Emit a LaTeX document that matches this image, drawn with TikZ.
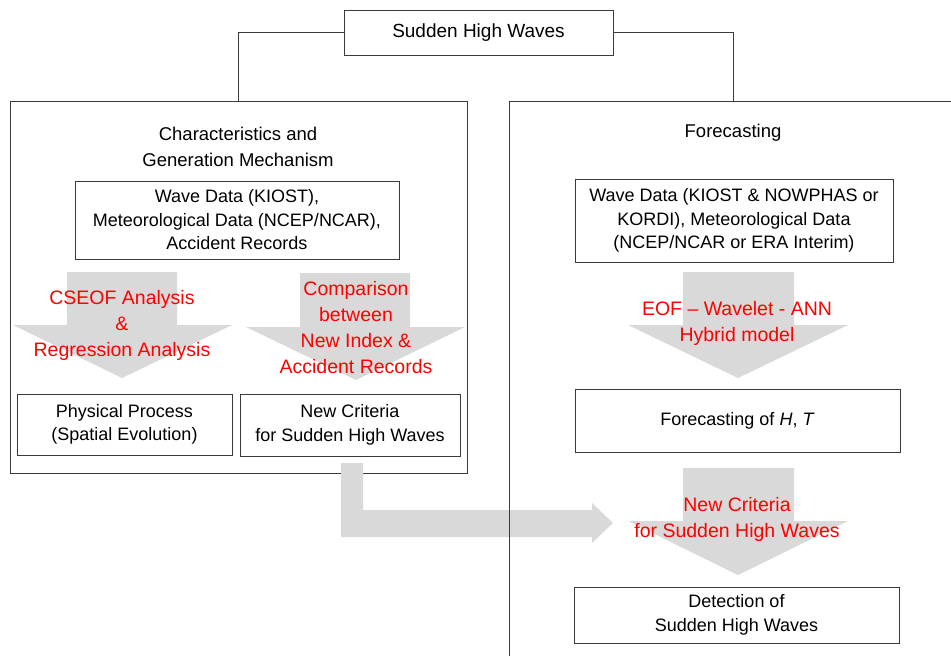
\documentclass[tikz,border=0pt]{standalone}
\usepackage{fontspec}
\setmainfont{Liberation Sans}
\definecolor{arrowgray}{HTML}{D9D9D9}
\definecolor{redtxt}{HTML}{FF0000}
\definecolor{linegray}{HTML}{3A3A3A}
\begin{document}
\begin{tikzpicture}[x=1pt,y=-1pt,
  box/.style={draw=linegray, line width=0.9pt, fill=white, inner sep=0pt, align=center, font=\fontsize{18}{23.5}\selectfont},
  bigbox/.style={draw=linegray, line width=0.9pt, inner sep=0pt},
  redlbl/.style={text=redtxt, align=center, font=\fontsize{19.5}{26}\selectfont, inner sep=0pt},
  titlelbl/.style={align=center, font=\fontsize{18.5}{26}\selectfont, inner sep=0pt},
  blockarrow/.style={fill=arrowgray, draw=none},
  link/.style={draw=linegray, line width=0.9pt}]
\useasboundingbox (0,0) rectangle (951,656);
\clip (0,0) rectangle (951,656);
\fill[white] (0,0) rectangle (951,656);

% left frame
\node[bigbox, minimum width=457pt, minimum height=372pt] (left) at (238.5,287) {};
\node[box, minimum width=269pt, minimum height=45pt, font=\fontsize{19}{24}\selectfont] (top) at (478.5,32.5) {Sudden High Waves};
\node[bigbox, minimum width=448pt, minimum height=619pt] (right) at (733,410.5) {};
\draw[link] (top.west) -| (left.north);
\draw[link] (top.east) -| (right.north);

\node[titlelbl] (ltitle) at (238,147) {Characteristics and\\Generation Mechanism};
\node[titlelbl] (rtitle) at (733,133) {Forecasting};

\node[box, minimum width=324pt, minimum height=78pt] (ldata) at (237,220) {Wave Data (KIOST),\\Meteorological Data (NCEP/NCAR),\\Accident Records};

% left down arrows
\path[blockarrow] (67,272) -- (177,272) -- (177,325) -- (232,325) -- (122,378) -- (13,325) -- (67,325) -- cycle;
\path[blockarrow] (300,273) -- (410,273) -- (410,327) -- (465,327) -- (356,380) -- (246,327) -- (300,327) -- cycle;
\node[redlbl] (lred1) at (122,325) {CSEOF Analysis\\\&\\Regression Analysis};
\node[redlbl] (lred2) at (356,328) {Comparison\\between\\New Index \&\\Accident Records};

\node[box, minimum width=215pt, minimum height=61pt] (phys) at (124.5,424.5) {Physical Process\\(Spatial Evolution)};
\node[box, minimum width=220pt, minimum height=62pt] (newcrit) at (350,425) {New Criteria\\for Sudden High Waves};

% L-shaped arrow
\path[blockarrow] (341,463) -- (363,463) -- (363,510) -- (592,510) -- (592,503) -- (613,523) -- (592,543) -- (592,537) -- (341,537) -- cycle;

% right frame redraw over L arrow
\node[bigbox, minimum width=448pt, minimum height=619pt] (rightline) at (733,410.5) {};

\node[box, minimum width=318pt, minimum height=83pt] (rdata) at (734,220.5) {Wave Data (KIOST \& NOWPHAS or\\KORDI), Meteorological Data\\(NCEP/NCAR or ERA Interim)};

\path[blockarrow] (683,272) -- (794,272) -- (794,325) -- (848,325) -- (738,378) -- (628,325) -- (683,325) -- cycle;
\node[redlbl] (rred1) at (737,323.5) {EOF – Wavelet - ANN\\Hybrid model};

\node[box, minimum width=325pt, minimum height=63pt] (fore) at (737.5,420.5) {Forecasting of \textit{H}, \textit{T}};

\path[blockarrow] (683,468) -- (794,468) -- (794,521) -- (848,521) -- (738,575) -- (628,521) -- (683,521) -- cycle;
\node[redlbl] (rred2) at (737,519) {New Criteria\\for Sudden High Waves};

\node[box, minimum width=325pt, minimum height=56pt] (detect) at (736.5,615) {Detection of\\Sudden High Waves};
\end{tikzpicture}
\end{document}
